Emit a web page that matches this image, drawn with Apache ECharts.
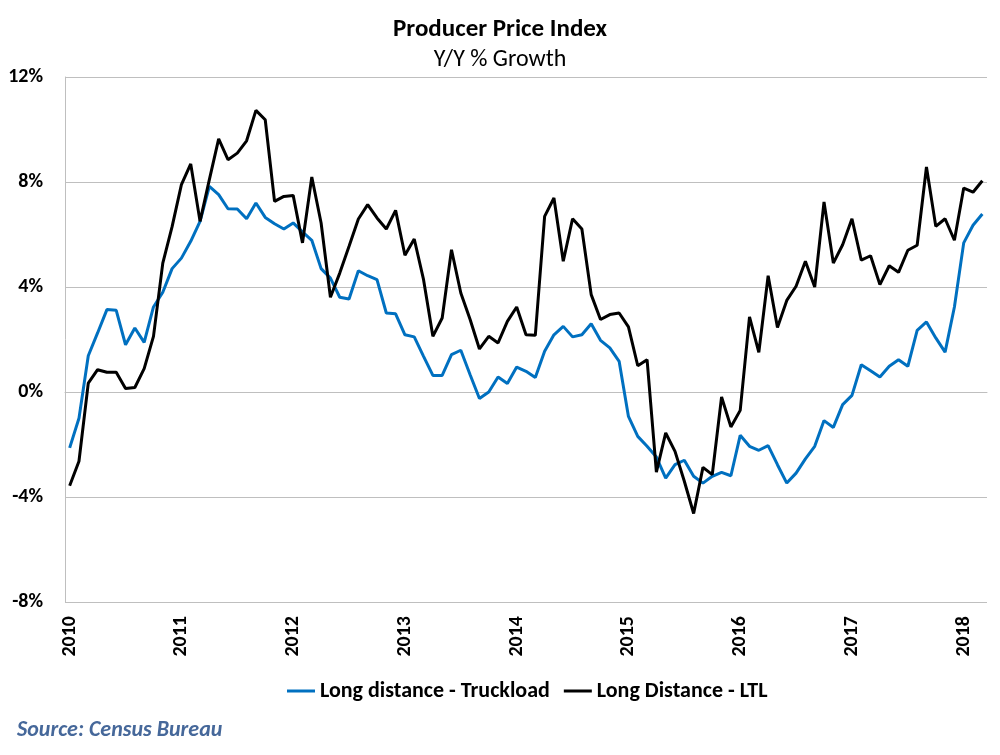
<!DOCTYPE html>
<html><head><meta charset="utf-8">
<script src="https://cdn.jsdelivr.net/npm/echarts@6/dist/echarts.min.js"></script>
<style>html,body{margin:0;padding:0;background:#fff}#c{width:1000px;height:755px}</style>
</head><body><div id="c"></div>
<script>
var years = ['2010','2011','2012','2013','2014','2015','2016','2017','2018'];
var truckload = [-2.13,-1.0,1.38,2.25,3.14,3.11,1.80,2.44,1.89,3.24,3.8,4.70,
5.1,5.74,6.5,7.83,7.52,6.98,6.97,6.6,7.2,6.65,6.41,6.21,
6.44,6.1,5.78,4.7,4.34,3.61,3.54,4.62,4.43,4.28,3.01,2.98,
2.18,2.10,1.36,0.63,0.63,1.42,1.59,0.66,-0.25,0.0,0.57,0.32,
0.95,0.79,0.55,1.55,2.18,2.5,2.1,2.18,2.6,1.97,1.68,1.17,
-0.93,-1.69,-2.07,-2.48,-3.28,-2.77,-2.6,-3.21,-3.47,-3.21,-3.06,-3.19,
-1.65,-2.07,-2.22,-2.04,-2.77,-3.47,-3.09,-2.55,-2.07,-1.09,-1.35,-0.48,
-0.13,1.04,0.81,0.57,0.98,1.23,0.98,2.35,2.67,2.06,1.52,3.24,
5.68,6.35,6.78];
var ltl = [-3.57,-2.64,0.34,0.85,0.75,0.75,0.13,0.17,0.89,2.12,4.91,6.3,
7.9,8.69,6.5,8.09,9.64,8.85,9.1,9.57,10.73,10.37,7.26,7.45,
7.49,5.68,8.19,6.44,3.61,4.53,5.55,6.59,7.14,6.63,6.21,6.92,
5.21,5.83,4.28,2.12,2.82,5.42,3.77,2.76,1.64,2.12,1.87,2.69,
3.24,2.18,2.16,6.69,7.39,4.98,6.6,6.21,3.71,2.76,2.95,3.01,
2.48,1.0,1.23,-3.05,-1.56,-2.26,-3.4,-4.63,-2.87,-3.15,-0.19,-1.33,
-0.7,2.86,1.51,4.43,2.46,3.49,4.03,4.98,4.0,7.24,4.91,5.61,
6.6,5.02,5.19,4.09,4.81,4.56,5.4,5.59,8.57,6.31,6.6,5.78,
7.77,7.61,8.05];

var months = [];
for (var i = 0; i < truckload.length; i++) {
  months.push(years[Math.floor(i / 12)] + '-' + (i % 12 + 1));
}
var FF = 'Carlito, "Liberation Sans Narrow", "Open Sans", sans-serif';
var chart = echarts.init(document.getElementById('c'), null, {renderer: 'canvas'});
chart.setOption({
  animation: false,
  textStyle: {fontFamily: FF},
  title: [
    {text: 'Producer Price Index', left: 'center', top: 12,
     textStyle: {fontFamily: FF, fontSize: 25, fontWeight: 'bold', color: '#000'}},
    {text: 'Y/Y % Growth', left: 'center', top: 43,
     textStyle: {fontFamily: FF, fontSize: 24, fontWeight: 'normal', color: '#000'}},
    {text: 'Source: Census Bureau', left: 12, top: 714,
     textStyle: {fontFamily: FF, fontSize: 22, fontWeight: 'bold', fontStyle: 'italic', color: '#46689A'}}
  ],
  legend: {
    top: 675, left: 282,
    itemWidth: 28, itemHeight: 3, itemGap: 14,
    icon: 'rect',
    textStyle: {fontFamily: FF, fontSize: 22, fontWeight: 'bold', color: '#000'},
    data: ['Long distance - Truckload', 'Long Distance - LTL']
  },
  grid: {left: 65, right: 13, top: 77, bottom: 153, containLabel: false},
  xAxis: {
    type: 'category', data: months, boundaryGap: true,
    axisLine: {show: true, lineStyle: {color: '#BFBFBF', width: 1}},
    axisTick: {show: false},
    axisLabel: {
      rotate: 90, margin: 14,
      interval: function (idx) { return idx % 12 === 0; },
      formatter: function (v) { return v.split('-')[0]; },
      fontFamily: FF, fontSize: 20, fontWeight: 'bold', color: '#000'
    },
    splitLine: {show: false}
  },
  yAxis: {
    type: 'value', min: -8, max: 12, interval: 4,
    axisLine: {show: true, lineStyle: {color: '#BFBFBF', width: 1}},
    axisTick: {show: false},
    axisLabel: {formatter: '{value}%', fontFamily: FF, fontSize: 20, fontWeight: 'bold', color: '#000', margin: 22},
    splitLine: {show: true, lineStyle: {color: '#BFBFBF', width: 1}}
  },
  series: [
    {name: 'Long distance - Truckload', type: 'line', data: truckload, showSymbol: false, symbol: 'none',
     lineStyle: {color: '#0070C0', width: 3}, itemStyle: {color: '#0070C0'}, z: 2},
    {name: 'Long Distance - LTL', type: 'line', data: ltl, showSymbol: false, symbol: 'none',
     lineStyle: {color: '#000000', width: 3}, itemStyle: {color: '#000000'}, z: 3}
  ]
});
</script></body></html>
